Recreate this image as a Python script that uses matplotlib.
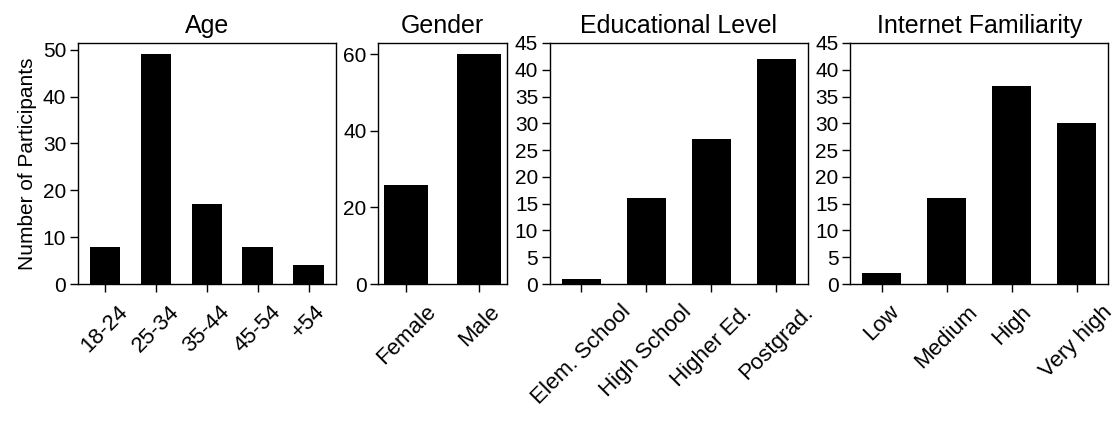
import matplotlib
matplotlib.use("Agg")
import matplotlib.pyplot as plt

plt.rcParams["font.family"] = ["Liberation Sans", "DejaVu Sans"]

age_labels = ["18-24", "25-34", "35-44", "45-54", "+54"]
age_counts = [8, 49, 17, 8, 4]

gender_labels = ["Female", "Male"]
gender_counts = [26, 60]

edu_labels = ["Elem. School", "High School", "Higher Ed.", "Postgrad."]
edu_counts = [1, 16, 27, 42]

net_labels = ["Low", "Medium", "High", "Very high"]
net_counts = [2, 16, 37, 30]

panels = [
    ("Age", age_labels, age_counts, range(0, 51, 10)),
    ("Gender", gender_labels, gender_counts, range(0, 61, 20)),
    ("Educational Level", edu_labels, edu_counts, range(0, 46, 5)),
    ("Internet Familiarity", net_labels, net_counts, range(0, 46, 5)),
]

fig, axes = plt.subplots(
    1, 4, figsize=(11.16, 4.21), dpi=100,
    gridspec_kw={"width_ratios": [2, 1, 2, 2]},
)
fig.subplots_adjust(left=78 / 1116, right=1108 / 1116,
                    top=1 - 43 / 421, bottom=1 - 284 / 421, wspace=0.19)

for i, (ax, (title, labels, counts, yt)) in enumerate(zip(axes, panels)):
    x = range(len(labels))
    ax.bar(x, counts, width=0.6, color="black")
    ax.set_xticks(list(x))
    ax.set_xticklabels(labels, rotation=45, ha="center", fontsize=16)
    ax.set_title(title, fontsize=18, pad=7)
    ax.set_yticks(list(yt))
    ax.tick_params(axis="y", labelsize=15, length=5.5, width=1, pad=3)
    ax.tick_params(axis="x", length=5.5, width=1, pad=7)
    for s in ax.spines.values():
        s.set_linewidth(1)
    if i >= 2:
        ax.set_ylim(0, 45)

axes[0].set_ylabel("Number of Participants", fontsize=15, labelpad=4)

fig.savefig("out.png", dpi=100, facecolor="white")
